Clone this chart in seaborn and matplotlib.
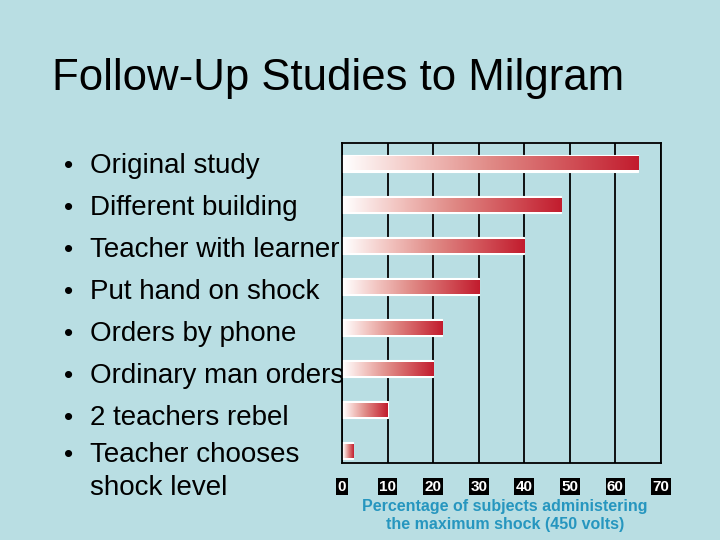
# === Follow-up studies to Milgram: horizontal bar chart on a slide ===
import numpy as np
import pandas as pd
import matplotlib
matplotlib.use('Agg')
import matplotlib.pyplot as plt
import seaborn as sns
from matplotlib.colors import LinearSegmentedColormap

# === DATA ===
studies = ['Original study', 'Different building', 'Teacher with learner',
           'Put hand on shock', 'Orders by phone', 'Ordinary man orders',
           '2 teachers rebel', 'Teacher chooses\nshock level']
percent = [65, 48, 40, 30, 22, 20, 10, 2.5]
ticks = [0, 10, 20, 30, 40, 50, 60, 70]
title = 'Follow-Up Studies to Milgram'
xlabel = 'Percentage of subjects administering\nthe maximum shock (450 volts)'

# bullet baselines (pixels from top) for the left-hand text
bullet_y = [173, 215, 257, 299, 341, 383, 425, 462]

# === STYLE ===
sns.set_theme(style='white')
plt.rcParams['font.family'] = ['Liberation Sans', 'DejaVu Sans']
bg = '#b9dee3'
bar_cmap = LinearSegmentedColormap.from_list(
    'bar', ['#ffffff', '#f2c4c0', '#e08a86', '#d2545a', '#c21c2e'])

fig = plt.figure(figsize=(7.2, 5.4), dpi=100, facecolor=bg)
ax = fig.add_axes([0.475, 0.1426, 0.443, 0.5926], facecolor=bg)

df = pd.DataFrame({'study': studies, 'percent': percent})
sns.barplot(data=df, x='percent', y='study', orient='h', width=0.4,
            color='white', edgecolor='white', linewidth=0.8, ax=ax)

# gradient fill over each bar, white -> dark red along its own length
grad = np.linspace(0, 1, 256).reshape(1, -1)
for p in ax.patches:
    x0, y0, w, h = p.get_x(), p.get_y(), p.get_width(), p.get_height()
    ax.imshow(grad, extent=[x0 + 0.15, x0 + w, y0 + h - 0.03, y0 + 0.03],
              aspect='auto', cmap=bar_cmap, zorder=p.get_zorder() + 0.1,
              interpolation='bicubic')

ax.set_xlim(0, 70)
ax.set_ylim(7.3, -0.5)
ax.set_axisbelow(True)
ax.xaxis.grid(True, color='black', linewidth=1.3)
for s in ax.spines.values():
    s.set_visible(True)
    s.set_color('black')
    s.set_linewidth(1.3)

ax.set_yticks([])
ax.set_ylabel('')
ax.set_xticks(ticks)
ax.set_xticklabels([str(t) for t in ticks], color='white',
                   fontweight='bold', fontsize=11)
for lbl in ax.get_xticklabels():
    lbl.set_bbox(dict(facecolor='black', edgecolor='none', pad=1.0))
ax.tick_params(axis='x', length=0, pad=12)

ax.set_xlabel(xlabel, color='#2696bf', fontweight='bold', fontsize=11.5,
              linespacing=1.25)
ax.xaxis.label.set_va('center')
ax.xaxis.set_label_coords(0.51, -0.165)

# === SLIDE TEXT ===
fig.text(52 / 720, 1 - 90 / 540, title, fontsize=31.5, color='black',
         va='baseline', ha='left')
for name, yb in zip(studies, bullet_y):
    fig.text(64 / 720, 1 - yb / 540, '\u2022', fontsize=19, color='black',
             va='baseline', ha='left', zorder=-1)
    for i, ln in enumerate(name.split('\n')):
        fig.text(90 / 720, 1 - (yb + 33 * i) / 540, ln, fontsize=20,
                 color='black', va='baseline', ha='left', zorder=-1)

fig.savefig('out.png', dpi=100, facecolor=bg)
